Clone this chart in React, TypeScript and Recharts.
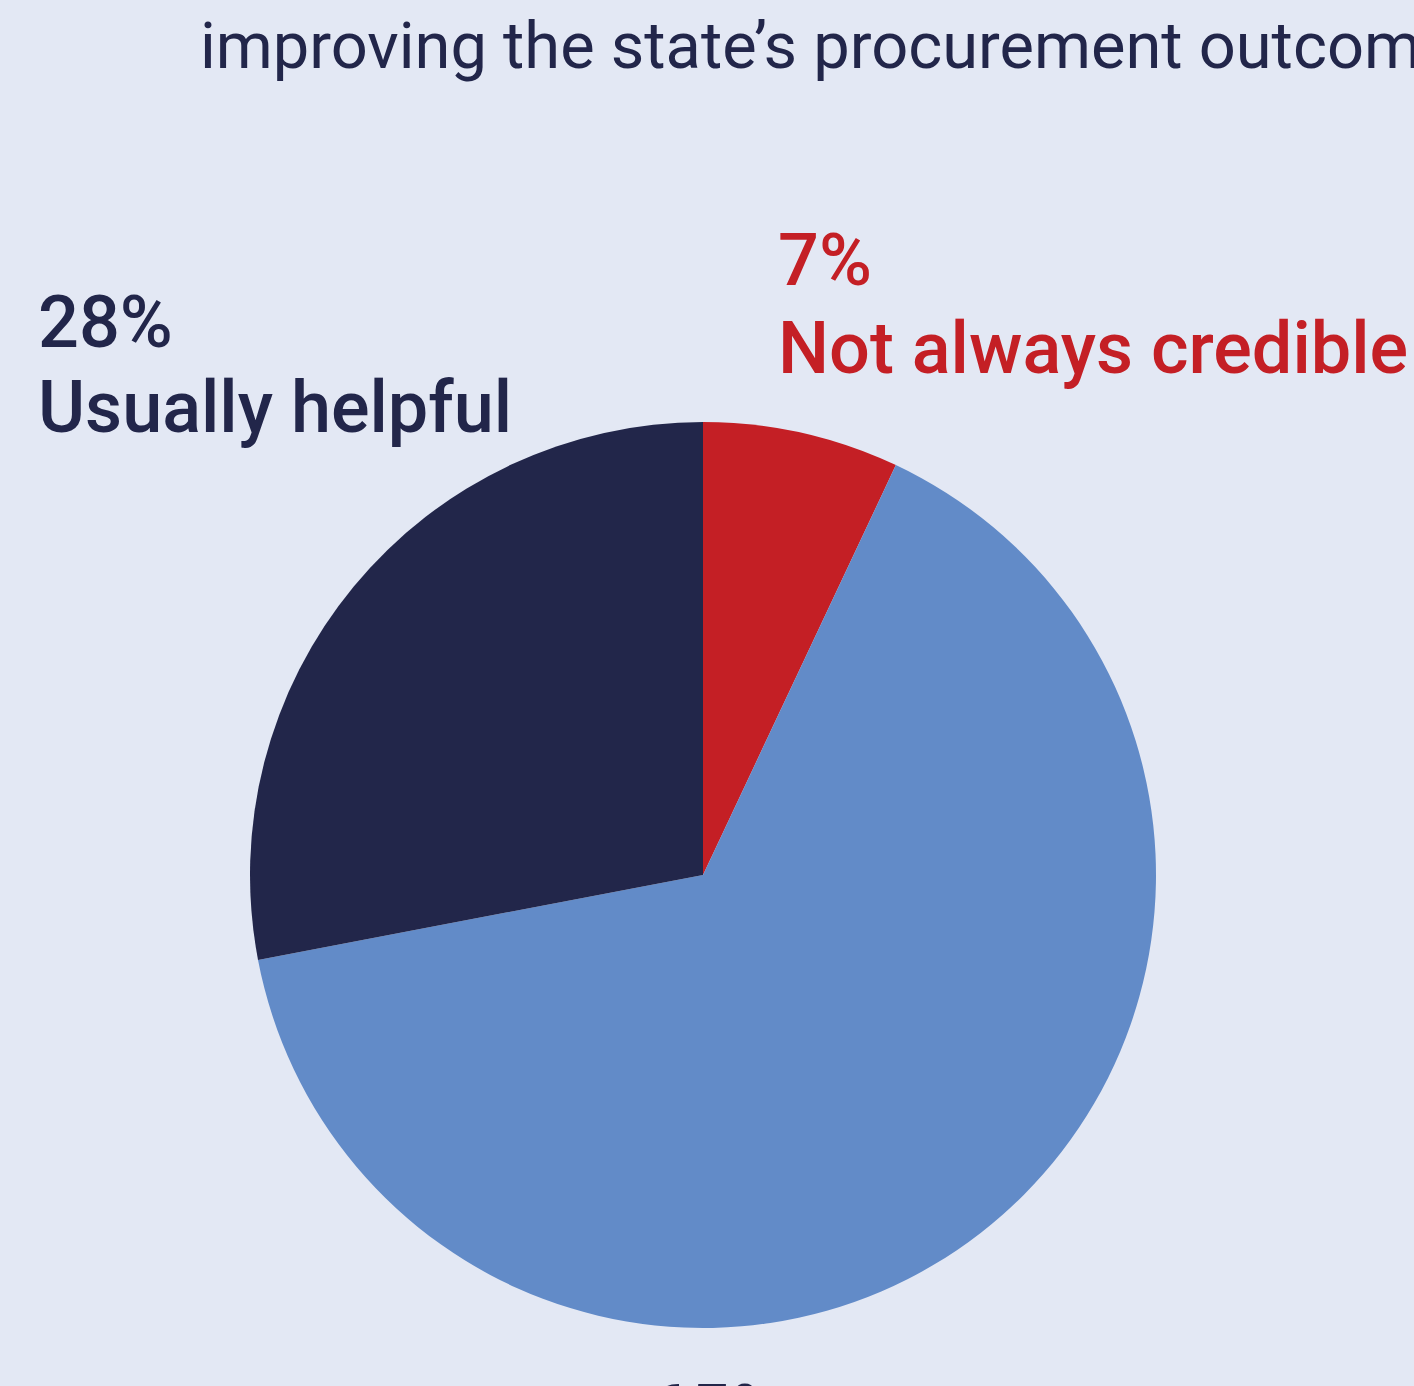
import { PieChart, Pie, Cell } from "recharts";

// slices clockwise from 12 o'clock
const categories = ["Not always credible", "Always helpful", "Usually helpful"];
const values = [7, 65, 28];
const colors = ["#C41F25", "#628BC8", "#22264A"];

const titleLine = "improving the state’s procurement outcomes";

const data = categories.map((name, i) => ({ name, value: values[i] }));

const W = 1414;
const H = 1386;
const font = "Roboto, 'Noto Sans', sans-serif";

export default function App() {
  return (
    <div style={{ position: "relative", width: W, height: H, overflow: "hidden", background: "#E3E8F4" }}>
      <style>{`body{margin:0;background:#E3E8F4}`}</style>
      <PieChart width={W} height={H} margin={{ top: 0, right: 0, bottom: 0, left: 0 }}>
        <Pie
          data={data}
          dataKey="value"
          nameKey="name"
          cx={703}
          cy={875}
          innerRadius={0}
          outerRadius={453}
          startAngle={90}
          endAngle={-270}
          stroke="none"
          isAnimationActive={false}
        >
          {data.map((d, i) => (
            <Cell key={d.name} fill={colors[i]} />
          ))}
        </Pie>
      </PieChart>

      <svg
        width={W}
        height={H}
        style={{ position: "absolute", left: 0, top: 0, pointerEvents: "none" }}
        fontFamily={font}
      >
        <text x={200} y={68} fontSize={65} fill="#22264A">
          {titleLine}
        </text>

        <text x={38} y={347} fontSize={72} fontWeight={500} fill="#22264A">
          {values[2]}%
        </text>
        <text x={38} y={432} fontSize={72} fontWeight={500} fill="#22264A">
          {categories[2]}
        </text>

        <text x={778} y={285} fontSize={72} fontWeight={500} fill="#C41F25">
          {values[0]}%
        </text>
        <text x={778} y={373} fontSize={72} fontWeight={500} fill="#C41F25">
          {categories[0]}
        </text>

        <text x={716} y={1436} fontSize={72} fontWeight={500} fill="#22264A" textAnchor="middle">
          {values[1]}%
        </text>
      </svg>
    </div>
  );
}
